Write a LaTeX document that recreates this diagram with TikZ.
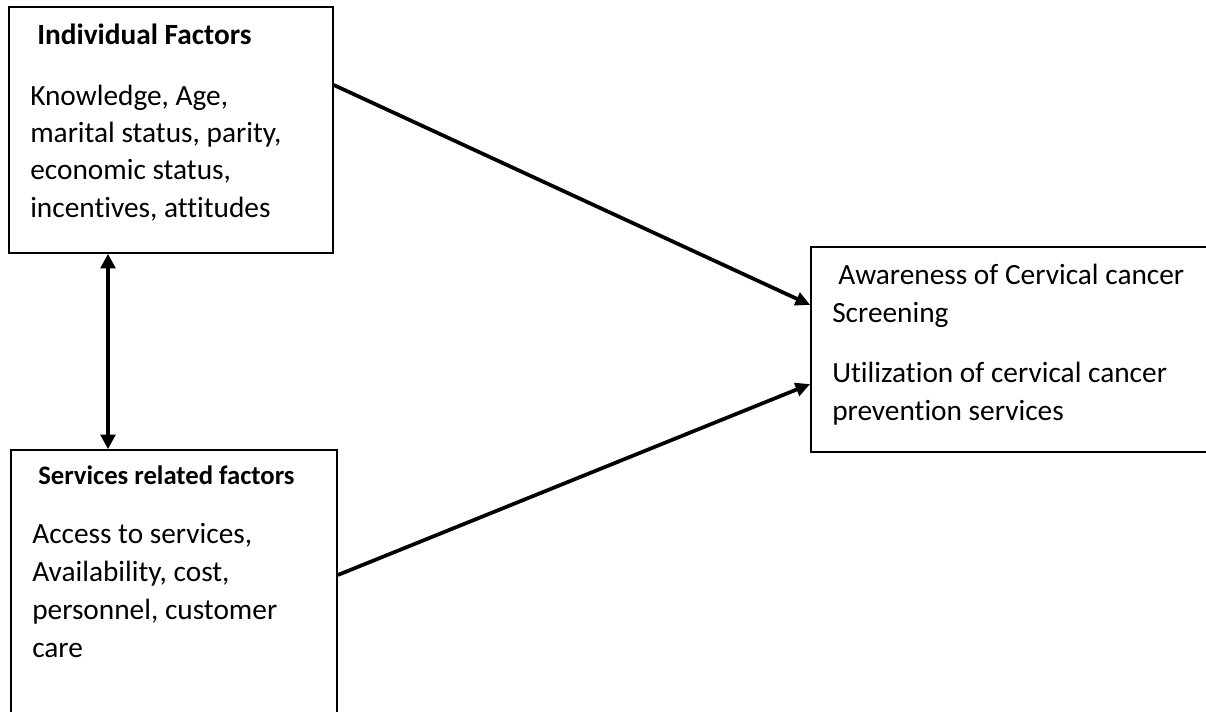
\documentclass[tikz,border=0pt]{standalone}
\usepackage{fontspec}
\setmainfont{Carlito}[Ligatures=NoCommon]
\usetikzlibrary{positioning,arrows.meta}
\tikzset{
  factorbox/.style={rectangle,draw=black,line width=1.2pt,inner sep=0pt},
  boxhead/.style={font=\bfseries\fontsize{22}{28}\selectfont,anchor=base west,inner sep=0pt},
  boxtext/.style={font=\fontsize{22}{28}\selectfont,align=left,anchor=base west,inner sep=0pt},
  edge/.style={-{Triangle[length=11pt,width=10pt]},line width=2.8pt},
  biedge/.style={{Triangle[length=11pt,width=11pt]}-{Triangle[length=11pt,width=11pt]},line width=2.8pt}
}
\begin{document}
\begin{tikzpicture}[x=0.75pt,y=-0.75pt]
  \useasboundingbox (0,0) rectangle (1206,711);
  \clip (0,0) rectangle (1206,711);
  % boxes
  \node[factorbox,minimum width=243pt,minimum height=184.5pt] (indiv) at (171,130) {};
  \node[factorbox,minimum width=244.5pt,minimum height=232.5pt] (serv) at (174,605) {};
  \node[factorbox,minimum width=314.25pt,minimum height=153.75pt] (aware) at (1020.5,349.5) {};
  % texts (anchored at the last line)
  \node[boxhead] (indivhead) at (37,44) {Individual Factors};
  \node[boxtext] (indivtext) at (30,217) {Knowledge, Age,\\marital status, parity,\\economic status,\\incentives, attitudes};
  \node[boxhead,font=\bfseries\fontsize{20}{26}\selectfont] (servhead) at (38,484) {Services related factors};
  \node[boxtext,font=\fontsize{22}{28.5}\selectfont] (servtext) at (32,657) {Access to services,\\Availability, cost,\\personnel, customer\\care};
  \node[boxtext] (awaretext) at (832,322) {\hspace{4.5pt}Awareness of Cervical cancer\\Screening};
  \node[boxtext] (usetext) at (832,420) {Utilization of cervical cancer\\prevention services};
  % connectors
  \draw[biedge] ([xshift=-47.25pt]indiv.south) -- ([xshift=-47.25pt]indiv.south |- serv.north);
  \draw[edge] ([yshift=33.75pt]indiv.east) -- ([yshift=33.4pt]aware.west);
  \draw[edge] ([yshift=22.5pt]serv.east) -- ([yshift=-25.9pt]aware.west);
\end{tikzpicture}
\end{document}
